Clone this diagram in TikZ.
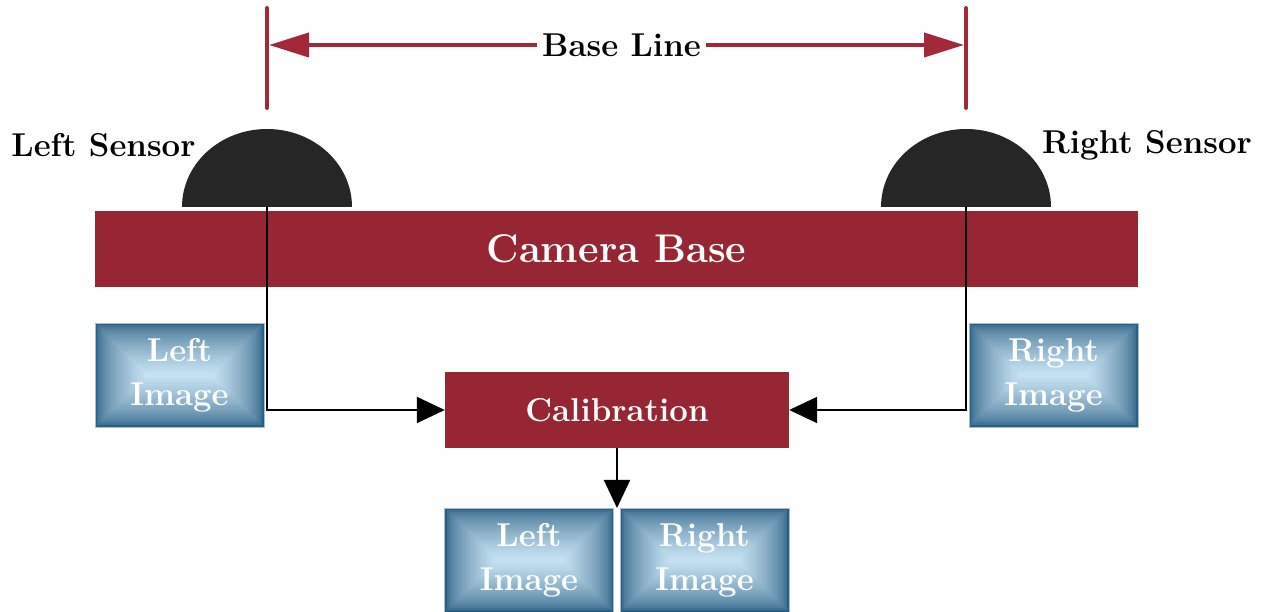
\documentclass[tikz,border=0pt]{standalone}
\usepackage{fontspec}
\usetikzlibrary{arrows.meta}
\definecolor{basered}{HTML}{962634}
\definecolor{arrred}{HTML}{A3283A}
\definecolor{domegray}{HTML}{262626}
\definecolor{boxdark}{HTML}{2A5E82}
\definecolor{boxlight}{HTML}{C6E2F2}
\tikzset{
  lbl/.style={font=\fontsize{33}{40}\selectfont\bfseries, inner sep=0pt},
  imgtext/.style={font=\fontsize{33}{44}\selectfont\bfseries, text=white, align=center, minimum width=169pt, minimum height=104pt, inner sep=0pt},
  redbox/.style={fill=basered, text=white, inner sep=0pt},
  redline/.style={draw=arrred, line width=4pt, line cap=round},
  redarrow/.style={draw=arrred, line width=4pt, {Triangle[length=40pt,width=24pt,fill=arrred]}-{Triangle[length=40pt,width=24pt,fill=arrred]}},
  blk/.style={draw=black, line width=2pt, -{Triangle[length=28pt,width=26pt]}},
}
\newcommand\imgbox[4]{%
  \foreach \i in {0,...,25}{
    \pgfmathsetmacro\dd{2*\i}
    \pgfmathtruncatemacro\pp{100*(\i/25)^0.6}
    \fill[boxlight!\pp!boxdark] (#2-84.5+\dd, #3-52+\dd) rectangle (#2+84.5-\dd, #3+52-\dd);
  }
  \draw[boxdark!40!white, line width=0.8pt] (#2-84.5,#3-52) rectangle (#2+84.5,#3+52);
  \node[imgtext] (#1) at (#2,#3) {#4};
}
\begin{document}
\begin{tikzpicture}[x=1pt,y=1pt]
\useasboundingbox (0,0) rectangle (1263,612);
% camera base
\node[redbox, minimum width=1043pt, minimum height=76pt, font=\fontsize{40}{48}\selectfont\bfseries] (base) at (616.5,363) {Camera Base};
% sensors
\fill[domegray] (182,405) arc[start angle=180, end angle=0, x radius=85, y radius=78] -- cycle;
\fill[domegray] (881,405) arc[start angle=180, end angle=0, x radius=85, y radius=78] -- cycle;
\coordinate (lsens) at (267,405);
\coordinate (rsens) at (966,405);
\node[lbl] (lsenslbl) at (103.5,467) {Left Sensor};
\node[lbl] (rsenslbl) at (1147,467) {Right Sensor};
% base line
\coordinate (lt1) at (267,604);
\coordinate (lt2) at (267,504);
\coordinate (rt1) at (966,604);
\coordinate (rt2) at (966,504);
\draw[redline] (lt1) -- (lt2);
\draw[redline] (rt1) -- (rt2);
\coordinate (bl1) at (269,567);
\coordinate (bl2) at (964,567);
\draw[redarrow] (bl1) -- (bl2);
\node[lbl, fill=white, inner xsep=5pt, inner ysep=4pt] (bltext) at (621.5,567) {Base Line};
% image boxes
\imgbox{limg}{179.5}{237}{Left\\Image}
\imgbox{rimg}{1053.5}{237}{Right\\Image}
\imgbox{limg2}{529}{52}{Left\\Image}
\imgbox{rimg2}{704.5}{52}{Right\\Image}
% calibration
\node[redbox, minimum width=344pt, minimum height=76pt, font=\fontsize{33}{40}\selectfont\bfseries] (calib) at (617,202) {Calibration};
% connectors
\draw[blk] (lsens) |- (calib.west);
\draw[blk] (rsens) |- (calib.east);
\coordinate (dbot) at (617,104);
\draw[blk] (calib.south) -- (dbot);
\end{tikzpicture}
\end{document}
